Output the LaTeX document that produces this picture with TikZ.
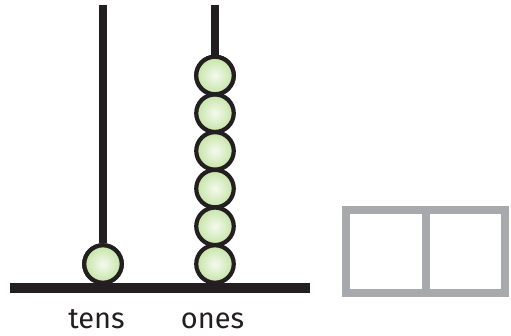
\documentclass[tikz,border=0pt]{standalone}
\usepackage{fontspec}
\setmainfont{Fira Sans}
\definecolor{beadedge}{HTML}{231F20}
\definecolor{beadout}{HTML}{C5E3A5}
\definecolor{beadin}{HTML}{F4FAEE}
\definecolor{boxgray}{HTML}{A7A9AC}
\tikzset{
  bead/.style={circle, minimum size=37.5pt, inner sep=0pt, draw=beadedge, line width=4.2pt,
    inner color=beadin, outer color=beadout},
  rod/.style={draw=beadedge, line width=8pt},
  lab/.style={font=\fontsize{29}{30}\selectfont, text=beadedge, anchor=base, inner sep=0pt},
  cell/.style={draw=boxgray, line width=8pt}
}
\begin{document}
\begin{tikzpicture}[x=1pt,y=-1pt]
\useasboundingbox (0,0) rectangle (511,335);
% rods
\coordinate (tt) at (103,5);
\coordinate (ot) at (215,5);
\node[bead] (tb) at (103,264) {};
\draw[rod] (tt) -- (tb.north);
\foreach \i in {1,...,6}{
  \node[bead] (ob\i) at (215,{75.5+37.7*(\i-1)}) {};
}
\draw[rod] (ot) -- (ob1.north);
\node[bead] at (103,264) {};
\node[bead] at (215,75.5) {};
% base
\coordinate (bl) at (10,288);
\coordinate (br) at (310,288);
\draw[draw=beadedge, line width=10pt] (bl) -- (br);
% labels
\node[lab] (tens) at (96.5,328) {tens};
\node[lab] (ones) at (212.5,328) {ones};
% place value box
\coordinate (b1) at (346,210);
\coordinate (b2) at (505,293);
\draw[cell] (b1) rectangle (b2);
\coordinate (m1) at (425.5,210);
\coordinate (m2) at (425.5,293);
\draw[cell] (m1) -- (m2);
\end{tikzpicture}
\end{document}
